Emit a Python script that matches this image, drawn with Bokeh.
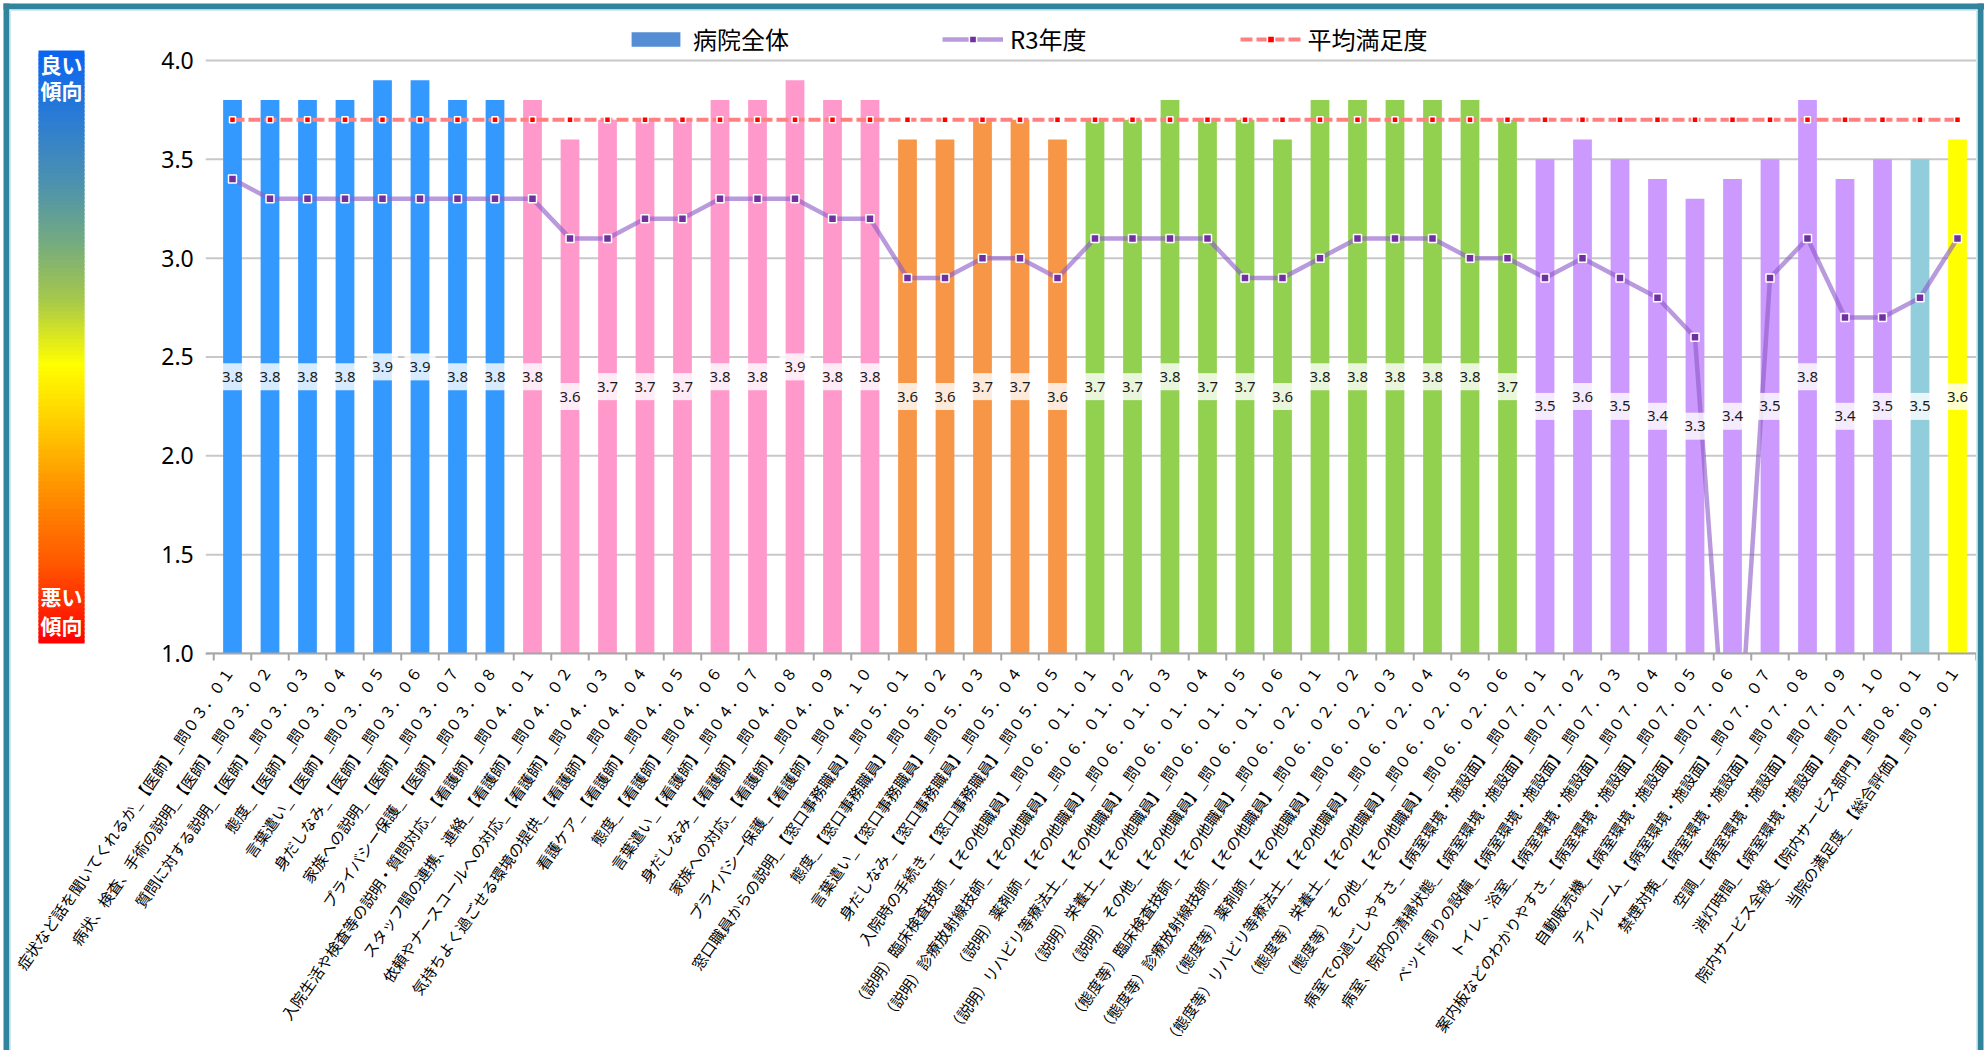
import numpy as np
from bokeh.plotting import figure
from bokeh.models import ColumnDataSource, Range1d, Legend, LegendItem
from bokeh.embed import file_html
from bokeh.resources import INLINE
from bokeh.core.properties import value

# ---------------- data ----------------
categories = [
    "症状など話を聞いてくれるか_【医師】_問０３．０１",
    "病状、検査、手術の説明_【医師】_問０３．０２",
    "質問に対する説明_【医師】_問０３．０３",
    "態度_【医師】_問０３．０４",
    "言葉遣い_【医師】_問０３．０５",
    "身だしなみ_【医師】_問０３．０６",
    "家族への説明_【医師】_問０３．０７",
    "プライバシー保護_【医師】_問０３．０８",
    "入院生活や検査等の説明・質問対応_【看護師】_問０４．０１",
    "スタッフ間の連携、連絡_【看護師】_問０４．０２",
    "依頼やナースコールへの対応_【看護師】_問０４．０３",
    "気持ちよく過ごせる環境の提供_【看護師】_問０４．０４",
    "看護ケア_【看護師】_問０４．０５",
    "態度_【看護師】_問０４．０６",
    "言葉遣い_【看護師】_問０４．０７",
    "身だしなみ_【看護師】_問０４．０８",
    "家族への対応_【看護師】_問０４．０９",
    "プライバシー保護_【看護師】_問０４．１０",
    "窓口職員からの説明_【窓口事務職員】_問０５．０１",
    "態度_【窓口事務職員】_問０５．０２",
    "言葉遣い_【窓口事務職員】_問０５．０３",
    "身だしなみ_【窓口事務職員】_問０５．０４",
    "入院時の手続き_【窓口事務職員】_問０５．０５",
    "（説明）臨床検査技師_【その他職員】_問０６．０１．０１",
    "（説明）診療放射線技師_【その他職員】_問０６．０１．０２",
    "（説明）薬剤師_【その他職員】_問０６．０１．０３",
    "（説明）リハビリ等療法士_【その他職員】_問０６．０１．０４",
    "（説明）栄養士_【その他職員】_問０６．０１．０５",
    "（説明）その他_【その他職員】_問０６．０１．０６",
    "（態度等）臨床検査技師_【その他職員】_問０６．０２．０１",
    "（態度等）診療放射線技師_【その他職員】_問０６．０２．０２",
    "（態度等）薬剤師_【その他職員】_問０６．０２．０３",
    "（態度等）リハビリ等療法士_【その他職員】_問０６．０２．０４",
    "（態度等）栄養士_【その他職員】_問０６．０２．０５",
    "（態度等）その他_【その他職員】_問０６．０２．０６",
    "病室での過ごしやすさ_【病室環境・施設面】_問０７．０１",
    "病室、院内の清掃状態_【病室環境・施設面】_問０７．０２",
    "ベッド周りの設備_【病室環境・施設面】_問０７．０３",
    "トイレ、浴室_【病室環境・施設面】_問０７．０４",
    "案内板などのわかりやすさ_【病室環境・施設面】_問０７．０５",
    "自動販売機_【病室環境・施設面】_問０７．０６",
    "ティルーム_【病室環境・施設面】_問０７．０７",
    "禁煙対策_【病室環境・施設面】_問０７．０８",
    "空調_【病室環境・施設面】_問０７．０９",
    "消灯時間_【病室環境・施設面】_問０７．１０",
    "院内サービス全般_【院内サービス部門】_問０８．０１",
    "当院の満足度_【総合評価】_問０９．０１",
]

hospital_total = [3.8, 3.8, 3.8, 3.8, 3.9, 3.9, 3.8, 3.8,
                  3.8, 3.6, 3.7, 3.7, 3.7, 3.8, 3.8, 3.9, 3.8, 3.8,
                  3.6, 3.6, 3.7, 3.7, 3.6,
                  3.7, 3.7, 3.8, 3.7, 3.7, 3.6,
                  3.8, 3.8, 3.8, 3.8, 3.8, 3.7,
                  3.5, 3.6, 3.5, 3.4, 3.3, 3.4, 3.5, 3.8, 3.4, 3.5,
                  3.5,
                  3.6]

r3_values = [3.4, 3.3, 3.3, 3.3, 3.3, 3.3, 3.3, 3.3,
             3.3, 3.1, 3.1, 3.2, 3.2, 3.3, 3.3, 3.3, 3.2, 3.2,
             2.9, 2.9, 3.0, 3.0, 2.9,
             3.1, 3.1, 3.1, 3.1, 2.9, 2.9,
             3.0, 3.1, 3.1, 3.1, 3.0, 3.0,
             2.9, 3.0, 2.9, 2.8, 2.6, 0.0, 2.9, 3.1, 2.7, 2.7,
             2.8,
             3.1]

avg_satisfaction = [3.7, 3.7, 3.7, 3.7, 3.7, 3.7, 3.7, 3.7,
                    3.7, 3.7, 3.7, 3.7, 3.7, 3.7, 3.7, 3.7, 3.7, 3.7,
                    3.7, 3.7, 3.7, 3.7, 3.7,
                    3.7, 3.7, 3.7, 3.7, 3.7, 3.7,
                    3.7, 3.7, 3.7, 3.7, 3.7, 3.7,
                    3.7, 3.7, 3.7, 3.7, 3.7, 3.7, 3.7, 3.7, 3.7, 3.7,
                    3.7,
                    3.7]

y_ticks = [1.0, 1.5, 2.0, 2.5, 3.0, 3.5, 4.0]

group_colors = {
    "問０３": "#3399FF",
    "問０４": "#FF99CC",
    "問０５": "#F79646",
    "問０６": "#92D050",
    "問０７": "#CC99FF",
    "問０８": "#92CDDC",
    "問０９": "#FFFF00",
}

# ---------------- derived ----------------
n = len(categories)
xs = list(range(n))
colors = [group_colors[c.split("_")[-1][:3]] for c in categories]
label_y = [(1.0 + v) / 2.0 for v in hospital_total]
label_txt = [f"{v:.1f}" for v in hospital_total]
base = [y_ticks[0]] * n

src = ColumnDataSource(dict(x=xs, v=hospital_total, r3=r3_values, avg=avg_satisfaction,
                            color=colors, ly=label_y, lt=label_txt, base=base, cat=categories))

# ---------------- geometry (the frame fills the whole canvas) ----------------
W, H = 1984, 1050
PX = 37.5          # pixels per category
PY = 197.67        # pixels per unit of score
XC, YC = 232, 653  # canvas position of the first category / of score 1.0
X0, X1 = -XC / PX, (W - XC) / PX
Y0, Y1 = 1 - (H - YC) / PY, 1 + YC / PY
grid_x0 = -0.5 - 8 / PX
ylab_x = -0.5 - 20 / PX
axis_end = n - 0.5

def cx(px):   # canvas x pixel -> data x
    return (px - XC) / PX

def cy(py):   # canvas y pixel -> data y
    return 1 + (YC - py) / PY

p = figure(width=W, height=H, x_range=Range1d(X0, X1), y_range=Range1d(Y0, Y1),
           toolbar_location=None, output_backend="svg",
           x_axis_type=None, y_axis_type=None,
           min_border_left=0, min_border_right=0, min_border_top=0, min_border_bottom=0)
p.outline_line_color = None
p.grid.visible = False

# ---- grid lines and y tick labels ----
p.segment(x0=grid_x0, x1=axis_end, y0=y_ticks, y1=y_ticks, line_color="#C8C8C8", line_width=2)
p.text(x=ylab_x, y=y_ticks, text=[f"{t:.1f}" for t in y_ticks], text_align="right",
       text_baseline="middle", text_font_size="23px", text_font=value("Noto Sans"),
       text_color="black")

# ---- colour indicator (good / bad trend) ----
gx0, gx1 = cx(38), cx(84)
gy_top, gy_bot = cy(50), cy(643)
stops = [(0.00, (10, 100, 240)), (0.12, (45, 125, 210)), (0.22, (75, 145, 175)),
         (0.32, (115, 170, 130)), (0.42, (165, 200, 75)), (0.49, (225, 235, 25)),
         (0.53, (255, 255, 0)), (0.63, (255, 205, 0)), (0.73, (255, 150, 0)),
         (0.86, (255, 90, 0)), (1.00, (255, 0, 0))]
NS = 150
sp = np.array([s[0] for s in stops])
sc = np.array([s[1] for s in stops], dtype=float)
fr = np.arange(NS) / NS
cols = []
for tt in fr + 0.5 / NS:
    rgb = [np.interp(tt, sp, sc[:, k]) for k in range(3)]
    cols.append("#%02x%02x%02x" % tuple(int(round(c)) for c in rgb))
gspan = gy_top - gy_bot
q_top = gy_top - fr * gspan
q_bot = np.maximum(q_top - gspan / NS * 1.6, gy_bot)
p.quad(left=gx0, right=gx1, top=q_top, bottom=q_bot, fill_color=cols, line_color=None)
gxm = (gx0 + gx1) / 2
p.text(x=[gxm] * 4, y=[cy(63), cy(89), cy(595), cy(624)],
       text=["良い", "傾向", "悪い", "傾向"], text_align="center", text_baseline="middle",
       text_color="white", text_font_style="bold", text_font_size="21px",
       text_font=value("Noto Sans CJK JP"))

# ---- bars ----
p.vbar(x="x", top="v", bottom="base", width=0.5, fill_color="color", line_color=None, source=src)

# ---- average line ----
avg_line = p.line("x", "avg", line_color="#FF8080", line_width=4, line_dash="12 4", source=src)
avg_pts = p.scatter("x", "avg", marker="square", size=6, fill_color="#FF0000",
                    line_color="white", line_width=1.5, source=src)

# ---- R3 line ----
r3_line = p.line("x", "r3", line_color="#8E5CC8", line_alpha=0.62, line_width=4.5, source=src)
r3_pts = p.scatter("x", "r3", marker="square", size=8, fill_color="#7030A0",
                   line_color="white", line_width=1.5, source=src)

# ---- mask below the value axis (plot area clipped at 1.0) ----
p.quad(left=-0.6, right=X1, top=y_ticks[0], bottom=Y0, fill_color="white", line_color=None)

# ---- x axis: line, boundary ticks, rotated category labels ----
p.segment(x0=grid_x0, x1=axis_end, y0=y_ticks[0], y1=y_ticks[0], line_color="#A6A6A6", line_width=2)
bnd = [i - 0.5 for i in range(n + 1)]
p.segment(x0=bnd, x1=bnd, y0=y_ticks[0], y1=y_ticks[0] - 7 / PY, line_color="#A6A6A6", line_width=2)
p.text(x="x", y="base", text="cat", angle=np.deg2rad(55), text_align="right",
       text_baseline="middle", x_offset=-3, y_offset=14, text_font_size="15.2px",
       text_font=value("Noto Sans CJK JP"), text_color="black", source=src)

# ---- data labels ----
p.rect(x="x", y="ly", width=31, height=27, width_units="screen", height_units="screen",
       fill_color="white", fill_alpha=0.8, line_color=None, source=src)
p.text(x="x", y="ly", text="lt", text_align="center", text_baseline="middle",
       text_font_size="15px", text_font=value("Noto Sans"), text_color="#1a1a1a", source=src)

# ---- outer frame of the chart (teal border with light inner line) ----
teal = "#31849B"
p.quad(left=[cx(3), cx(3), cx(1977)], right=[cx(9), cx(1984), cx(1983)],
       top=[cy(3), cy(3), cy(3)], bottom=[Y0, cy(9), Y0], fill_color=teal, line_color=None)
p.quad(left=[cx(9), cx(9), cx(1975.5)], right=[cx(10.5), cx(1977), cx(1977)],
       top=[cy(9), cy(9), cy(9)], bottom=[Y0, cy(10.5), Y0], fill_color="#D3EAF0", line_color=None)

# ---- legend ----
leg_bar = p.vbar(x=[0], top=[y_ticks[0]], bottom=[y_ticks[0]], width=0.5,
                 fill_color="#558ED5", line_color=None)
legend = Legend(items=[
    LegendItem(label="病院全体", renderers=[leg_bar]),
    LegendItem(label="R3年度", renderers=[r3_line, r3_pts]),
    LegendItem(label="平均満足度", renderers=[avg_line, avg_pts]),
], orientation="horizontal", location=(625, 994))
legend.label_text_font = "Noto Sans CJK JP"
legend.label_text_font_size = "24px"
legend.label_text_color = "black"
legend.glyph_width = 61
legend.glyph_height = 18
legend.label_standoff = 7
legend.spacing = 153
legend.padding = 4
legend.margin = 0
legend.border_line_color = None
legend.background_fill_alpha = 0
p.add_layout(legend)

open("out.html", "w").write(file_html(p, INLINE))
